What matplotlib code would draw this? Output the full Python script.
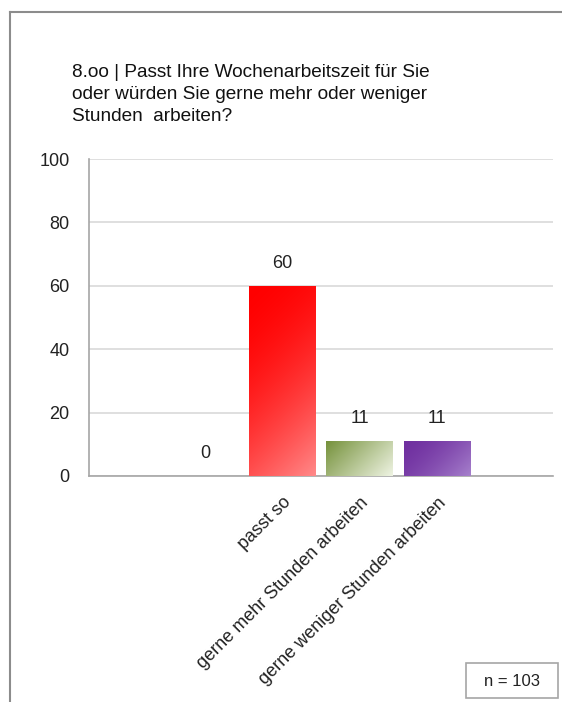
import matplotlib
matplotlib.use("Agg")
import matplotlib.pyplot as plt
import numpy as np
from matplotlib.colors import to_rgb
from matplotlib.lines import Line2D
from matplotlib.patches import Rectangle

plt.rcParams['font.family'] = ['Liberation Sans', 'DejaVu Sans']

title = "8.oo | Passt Ihre Wochenarbeitszeit für Sie\noder würden Sie gerne mehr oder weniger\nStunden  arbeiten?"
categories = ["", "passt so", "gerne mehr Stunden arbeiten", "gerne weniger Stunden arbeiten"]
values = [0, 60, 11, 11]
n_total = 103
yticks = [0, 20, 40, 60, 80, 100]
# gradient start (top-left) / end (bottom-right)
grad_start = ["#ff0000", "#ff0000", "#76923c", "#7030a0"]
grad_end = ["#ff8a8a", "#ff8a8a", "#eef3e2", "#a680cc"]
grad_power = [1.8, 1.8, 1.0, 1.6]

fig = plt.figure(figsize=(5.62, 7.02), dpi=100)
ax = fig.add_axes([89 / 562, 1 - 476 / 702, 464 / 562, 317 / 702])

pos = np.arange(1, len(categories) + 1)
bars = ax.bar(pos, values, width=0.86, color='none', edgecolor='none', zorder=3)
ax.set_xlim(-0.5, 5.5)
ax.set_ylim(0, 100)
ax.set_yticks(yticks)
ax.yaxis.grid(True, color='#d9d9d9', linewidth=1.2, zorder=0)
ax.set_axisbelow(True)
for s in ['top', 'right']:
    ax.spines[s].set_visible(False)
for s in ['left', 'bottom']:
    ax.spines[s].set_color('#a6a6a6')
    ax.spines[s].set_linewidth(1.2)
ax.tick_params(axis='both', length=0, labelsize=13, colors='#222222')
ax.tick_params(axis='y', pad=14)
ax.set_xticks(pos)
ax.set_xticklabels(categories, rotation=45, ha='right', va='top',
                   rotation_mode='anchor', fontsize=13)
ax.tick_params(axis='x', pad=13)

fig.canvas.draw()
for i, b in enumerate(bars):
    h = b.get_height()
    if h > 0:
        x0, w = b.get_x(), b.get_width()
        bb = b.get_window_extent()
        wp, hp = max(int(bb.width), 2), max(int(bb.height), 2)
        xx, yy = np.meshgrid(np.arange(wp), np.arange(hp))
        t = (xx + yy) / float(wp + hp - 2)
        t = t ** grad_power[i]
        c0, c1 = np.array(to_rgb(grad_start[i])), np.array(to_rgb(grad_end[i]))
        img = c0 + (c1 - c0) * t[..., None]
        im = ax.imshow(img, extent=(x0, x0 + w, 0, h), origin='upper',
                       aspect='auto', interpolation='bilinear', zorder=3)
        rect = Rectangle((x0, 0), w, h, transform=ax.transData)
        im.set_clip_path(rect)
    ax.text(b.get_x() + b.get_width() / 2, h + 4.5, f"{h:g}",
            ha='center', va='bottom', fontsize=13, color='#222222', zorder=4)
ax.set_xlim(-0.5, 5.5)
ax.set_ylim(0, 100)

fig.text(72 / 562, 1 - 64 / 702, title, ha='left', va='top', fontsize=13.7,
         color='#111111', linespacing=1.38)

# frame lines
fig.add_artist(Line2D([10 / 562, 10 / 562], [0, 1 - 12 / 702], color='#8c8c8c', linewidth=1.5))
fig.add_artist(Line2D([10 / 562, 1], [1 - 12 / 702, 1 - 12 / 702], color='#8c8c8c', linewidth=1.5))

fig.add_artist(Rectangle((466 / 562, 1 - 698 / 702), 92 / 562, 35 / 702, transform=fig.transFigure,
                         facecolor='white', edgecolor='#a6a6a6', linewidth=1.2))
fig.text(512 / 562, 1 - 681 / 702, f"n = {n_total}", ha='center', va='center', fontsize=12,
         color='#222222')

fig.savefig("out.png", dpi=100)
